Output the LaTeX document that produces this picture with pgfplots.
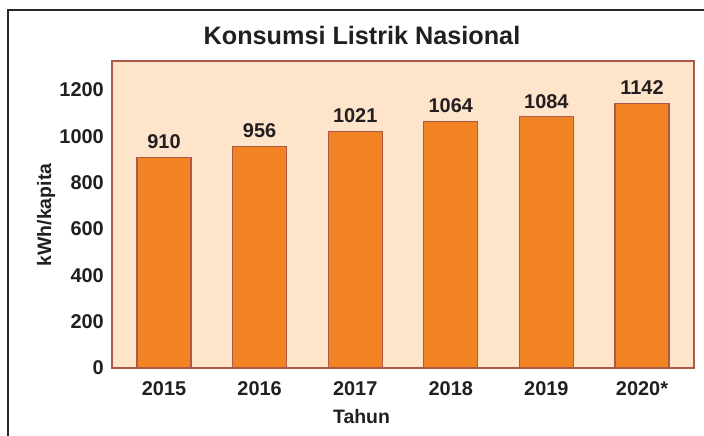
\documentclass[border=0pt]{standalone}
\usepackage{pgfplots}
\pgfplotsset{compat=1.18}
\usepackage{fontspec}
\setmainfont{Liberation Sans}

\definecolor{barfill}{RGB}{242,131,34}
\definecolor{bgfill}{RGB}{253,228,202}
\definecolor{edge}{RGB}{172,90,70}
\definecolor{framec}{RGB}{40,40,40}
\definecolor{txt}{RGB}{35,31,32}

\begin{document}
\begin{tikzpicture}[x=1bp,y=1bp]
\useasboundingbox (0,0) rectangle (704,436);
% outer frame (top and left edges)
\draw[framec, line width=1.5bp] (8,0) -- (8,426) -- (704,426);

\begin{axis}[
  at={(112bp,68bp)}, anchor=south west,
  scale only axis, width=582bp, height=307bp,
  ybar, bar width=0.565,
  xmin=-0.544, xmax=5.544, ymin=0, ymax=1325,
  xtick=data,
  xticklabels={2015,2016,2017,2018,2019,2020*},
  ytick={0,200,400,600,800,1000,1200},
  major tick length=0pt,
  axis line style={edge, line width=1.5bp},
  axis background/.style={fill=bgfill},
  /pgf/number format/assume math mode=true,
  /pgf/number format/1000 sep={},
  ticklabel style={font=\fontsize{20}{21}\selectfont\bfseries, text=txt, inner sep=0pt},
  yticklabel style={anchor=east, xshift=-8bp},
  xticklabel style={anchor=north, yshift=-13bp},
  nodes near coords,
  every node near coord/.append style={font=\fontsize{20}{21}\selectfont\bfseries, text=txt, anchor=base, inner sep=0pt, yshift=8.5bp},
]
\addplot[fill=barfill, draw=edge, line width=1.2bp]
  coordinates {(0,910) (1,956) (2,1021) (3,1064) (4,1084) (5,1142)};
\end{axis}

\node[font=\fontsize{25.3}{27}\selectfont\bfseries, text=txt, anchor=base] at (362,391.7) {Konsumsi Listrik Nasional};
\node[font=\fontsize{19.5}{20}\selectfont\bfseries, text=txt, anchor=base] at (361.5,12) {Tahun};
\node[font=\fontsize{19.5}{20}\selectfont\bfseries, text=txt, rotate=90, anchor=center] at (46,221) {kWh/kapita};
\end{tikzpicture}
\end{document}
